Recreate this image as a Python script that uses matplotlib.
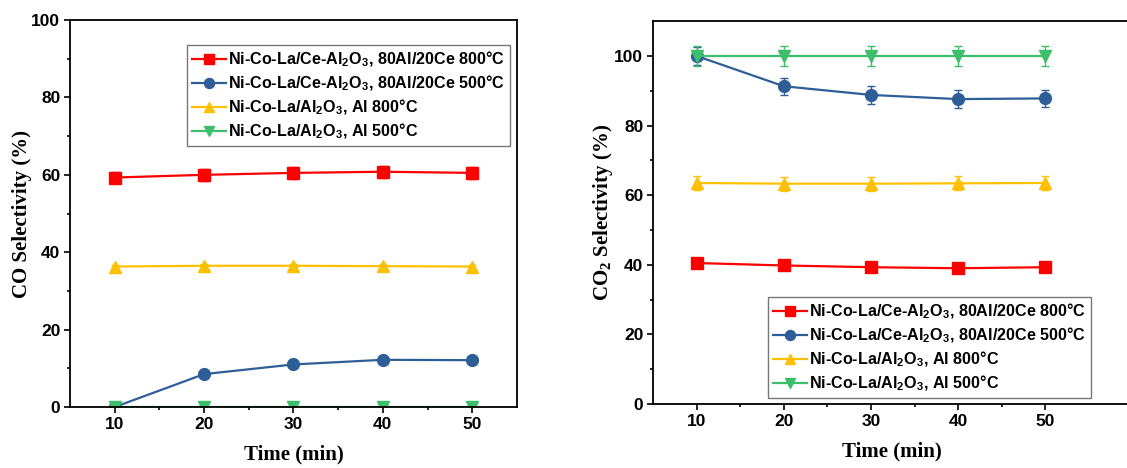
import numpy as np
import matplotlib
matplotlib.use("Agg")
import matplotlib.pyplot as plt

plt.rcParams['font.family'] = ['Liberation Sans', 'DejaVu Sans']
plt.rcParams['font.weight'] = 'bold'
plt.rcParams['mathtext.default'] = 'regular'

time = [10, 20, 30, 40, 50]

labels = [
    'Ni-Co-La/Ce-Al$_2$O$_3$, 80Al/20Ce 800°C',
    'Ni-Co-La/Ce-Al$_2$O$_3$, 80Al/20Ce 500°C',
    'Ni-Co-La/Al$_2$O$_3$, Al 800°C',
    'Ni-Co-La/Al$_2$O$_3$, Al 500°C',
]
colors = ['#FF0000', '#2E5E98', '#FFC000', '#3DBE6B']
markers = ['s', 'o', '^', 'v']

# CO selectivity (%)
co_red = [59.3, 60.0, 60.5, 60.8, 60.5]
co_blue = [0.0, 8.5, 11.0, 12.2, 12.1]
co_orange = [36.3, 36.5, 36.5, 36.4, 36.3]
co_green = [0.0, 0.0, 0.0, 0.0, 0.0]
co_err = [1.5, 0.5, 0.5, 0.3]

# CO2 selectivity (%)
co2_red = [40.5, 39.8, 39.3, 39.0, 39.3]
co2_blue = [100.0, 91.3, 88.8, 87.6, 87.8]
co2_orange = [63.5, 63.3, 63.3, 63.4, 63.5]
co2_green = [100.0, 100.0, 100.0, 100.0, 100.0]
co2_err = [1.0, 2.5, 2.0, 3.0]

fig = plt.figure(figsize=(11.27, 4.68), dpi=100)
ax1 = fig.add_axes([0.0621, 0.1303, 0.3966, 0.8269])
ax2 = fig.add_axes([0.5794, 0.1368, 0.4240, 0.8180])


def draw(ax, series, errs, ylim, ylabel, anchor, loc):
    handles = []
    for ys, e, c, m, lab in zip(series, errs, colors, markers, labels):
        cont = ax.errorbar(time, ys, yerr=e, color=c, marker=m, markersize=8.5,
                           linewidth=1.6, elinewidth=1.0, capsize=3, capthick=1.0,
                           ecolor=c, label=lab)
        handles.append(cont[0])
    ax.set_ylim(*ylim)
    ax.set_xticks(time)
    ax.set_xticks([15, 25, 35, 45], minor=True)
    ax.set_yticks(np.arange(0, ylim[1] + 0.1, 20))
    ax.set_yticks(np.arange(10, ylim[1], 20), minor=True)
    ax.tick_params(which='major', direction='out', length=4, width=1.2,
                   labelsize=12.5, pad=3)
    ax.tick_params(which='minor', direction='out', length=2.5, width=1.2)
    for s in ax.spines.values():
        s.set_linewidth(1.3)
    ax.set_xlabel('Time (min)', family=['Liberation Serif'], fontsize=15,
                  fontweight='bold', labelpad=9)
    ax.set_ylabel(ylabel, family=['Liberation Serif'], fontsize=15,
                  fontweight='bold', labelpad=-0.5)
    leg = ax.legend(handles=handles, labels=labels, loc=loc,
                    bbox_to_anchor=anchor, fontsize=11.6, frameon=True,
                    fancybox=False, edgecolor='#555555', handlelength=2.1,
                    handletextpad=0.15, borderpad=0.3, labelspacing=0.28,
                    borderaxespad=0.0, markerscale=0.85)
    leg.get_frame().set_linewidth(1.0)
    for t in leg.get_texts():
        t.set_fontweight('bold')


draw(ax1, [co_red, co_blue, co_orange, co_green], co_err, (0, 100),
     'CO Selectivity (%)', (0.262, 0.935), 'upper left')
ax1.set_xlim(5, 55)

draw(ax2, [co2_red, co2_blue, co2_orange, co2_green], co2_err, (0, 110),
     'CO$_2$ Selectivity (%)', (0.241, 0.016), 'lower left')
ax2.set_xlim(5, 59.8)

fig.savefig('out.png', dpi=100)
